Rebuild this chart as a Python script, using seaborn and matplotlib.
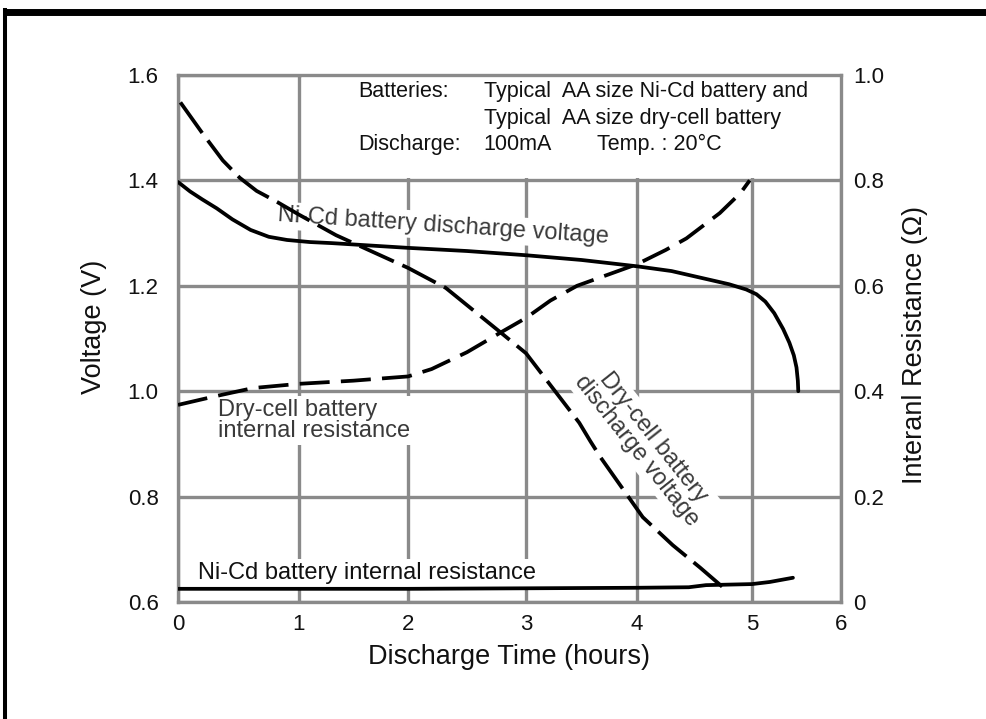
import numpy as np
import matplotlib
matplotlib.use("Agg")
import matplotlib.pyplot as plt
from matplotlib.lines import Line2D
from matplotlib.patches import Rectangle
import seaborn as sns

# ---- data -------------------------------------------------------------
# Ni-Cd battery discharge voltage (V) vs time (h)
nicd_v_t = [0.0, 0.05, 0.1, 0.2, 0.32, 0.45, 0.6, 0.75, 0.9, 1.1, 1.3, 2.0,
            2.5, 3.0, 3.5, 4.0, 4.3, 4.6, 4.8, 4.95, 5.05, 5.15, 5.25, 5.35,
            5.42, 5.47, 5.5, 5.515, 5.52]
nicd_v = [1.397, 1.388, 1.379, 1.364, 1.347, 1.326, 1.306, 1.293, 1.287,
          1.283, 1.281, 1.272, 1.266, 1.258, 1.249, 1.237, 1.228, 1.213,
          1.203, 1.193, 1.184, 1.17, 1.148, 1.118, 1.092, 1.068, 1.045,
          1.02, 1.0]

# Dry-cell battery discharge voltage (V)
dry_v_t = [0.02, 0.2, 0.37, 0.51, 0.65, 0.82, 1.0, 1.34, 2.0, 2.32, 2.76,
           3.0, 3.48, 3.58, 3.67, 4.05, 4.31, 4.55, 4.8]
dry_v = [1.548, 1.49, 1.438, 1.405, 1.38, 1.359, 1.335, 1.296, 1.234, 1.196,
         1.116, 1.072, 0.94, 0.905, 0.875, 0.761, 0.708, 0.665, 0.618]

# Ni-Cd battery internal resistance (ohm)
nicd_r_t = [0.0, 1.0, 2.0, 3.0, 4.0, 4.45, 4.6, 5.0, 5.2, 5.46]
nicd_r = [0.025, 0.025, 0.025, 0.026, 0.027, 0.028, 0.032, 0.034, 0.038, 0.046]

# Dry-cell battery internal resistance (ohm)
dry_r_t = [0.0, 0.3, 0.62, 1.0, 1.5, 1.81, 2.0, 2.2, 2.5, 2.79, 3.0, 3.22,
           3.46, 3.75, 4.0, 4.25, 4.43, 4.72, 4.9, 4.98]
dry_r = [0.374, 0.39, 0.406, 0.414, 0.42, 0.425, 0.428, 0.442, 0.474, 0.512,
         0.539, 0.572, 0.600, 0.622, 0.641, 0.668, 0.69, 0.738, 0.776, 0.80]

x_ticks = [0, 1, 2, 3, 4, 5, 6]
v_ticks = [0.6, 0.8, 1.0, 1.2, 1.4, 1.6]
r_ticks = [0.0, 0.2, 0.4, 0.6, 0.8, 1.0]
r_tick_labels = ["0", "0.2", "0.4", "0.6", "0.8", "1.0"]

# ---- style ------------------------------------------------------------
sns.set_theme(style="white")
plt.rcParams["font.family"] = ["Liberation Sans", "DejaVu Sans"]

GRID = "#8a8a8a"
INK = "#111111"
LABEL = "#3a3a3a"

fig = plt.figure(figsize=(9.87, 7.19), dpi=100)
fig.patch.set_facecolor("white")
ax = fig.add_axes([178 / 987, 1 - 602 / 719, 663 / 987, 527 / 719])

# hand-drawn grid spacing of the hour axis
hour_pos = [0, 121, 230, 348, 459, 574, 663]
ax.set_xscale("function",
              functions=(lambda h: np.interp(h, x_ticks, hour_pos),
                         lambda p: np.interp(p, hour_pos, x_ticks)))
ax.set_xlim(0, 6)
ax.set_ylim(0.6, 1.6)
ax.set_xticks(x_ticks)
ax.set_xticklabels([str(t) for t in x_ticks])
ax.set_yticks(v_ticks)
ax.set_yticklabels([f"{t:.1f}" for t in v_ticks])
ax.set_axisbelow(True)
ax.grid(True, color=GRID, lw=2.4)
for s in ax.spines.values():
    s.set_color(GRID)
    s.set_linewidth(2.4)
ax.tick_params(axis="both", length=0, labelsize=16, colors=INK)
ax.tick_params(axis="y", pad=14)
ax.tick_params(axis="x", pad=9)

ax2 = ax.twinx()
ax2.set_ylim(0, 1.0)
ax2.set_yticks(r_ticks)
ax2.set_yticklabels(r_tick_labels)
ax2.tick_params(axis="y", length=0, labelsize=16, colors=INK, pad=9)
ax2.grid(False)
for s in ax2.spines.values():
    s.set_visible(False)

# blank panel holding the test conditions
ax.add_patch(Rectangle((1.03, 1.404), 4.97, 0.196, facecolor="white",
                       edgecolor="none", zorder=1))

# ---- curves -------------------------------------------------------------
sns.lineplot(x=nicd_v_t, y=nicd_v, ax=ax, color="black", lw=2.7,
             sort=False, zorder=3)
sns.lineplot(x=dry_v_t, y=dry_v, ax=ax, color="black", lw=2.7,
             linestyle=(0, (10, 2.5)), sort=False, zorder=3)
sns.lineplot(x=nicd_r_t, y=nicd_r, ax=ax2, color="black", lw=2.7,
             sort=False, zorder=3)
sns.lineplot(x=dry_r_t, y=dry_r, ax=ax2, color="black", lw=2.7,
             linestyle=(0, (8, 3)), sort=False, zorder=3)

# ---- labels -------------------------------------------------------------
ax.set_xlabel("Discharge Time (hours)", fontsize=19.5, color=INK)
ax.xaxis.label.set_va("center")
ax.xaxis.set_label_coords(0.5, -0.104)
ax.set_ylabel("Voltage (V)", fontsize=19.5, color=INK)
ax.yaxis.label.set_va("center")
ax.yaxis.set_label_coords(-0.127, 0.522)
ax2.set_ylabel("Interanl Resistance (\u03a9)", fontsize=19.5, color=INK)
ax2.yaxis.label.set_va("center")
ax2.yaxis.set_label_coords(1.112, 0.488)

note_kw = dict(fontsize=15.5, color=INK, va="center", ha="left", zorder=2)
ax.text(1.54, 1.568, "Batteries:", **note_kw)
ax.text(2.64, 1.568, "Typical  AA size Ni-Cd battery and", **note_kw)
ax.text(2.64, 1.517, "Typical  AA size dry-cell battery", **note_kw)
ax.text(1.54, 1.469, "Discharge:", **note_kw)
ax.text(2.64, 1.469, "100mA", **note_kw)
ax.text(3.64, 1.469, "Temp. : 20\u00b0C", **note_kw)

box = dict(facecolor="white", edgecolor="none", pad=2)
ax.text(0.826, 1.334, "Ni-Cd battery discharge voltage", fontsize=17,
        color=LABEL, ha="left", va="center", rotation=-3.8,
        rotation_mode="anchor", bbox=box, zorder=2)
ax.text(0.33, 0.945, "Dry-cell battery\ninternal resistance", fontsize=17,
        color=LABEL, ha="left", va="center", linespacing=0.95,
        bbox=box, zorder=2)
ax.text(4.07, 0.9, "Dry-cell battery\ndischarge voltage", fontsize=17,
        color=LABEL, ha="center", va="center", rotation=-51.5,
        rotation_mode="anchor", multialignment="center", linespacing=0.95,
        bbox=box, zorder=2)
ax.text(0.165, 0.655, "Ni-Cd battery internal resistance", fontsize=17,
        color=INK, ha="left", va="center", bbox=box, zorder=2)

# outer frame edges
fig.add_artist(Line2D([3 / 987, 1], [1 - 11.5 / 719] * 2, color="black",
                      lw=5.0, solid_capstyle="butt"))
fig.add_artist(Line2D([5 / 987] * 2, [0, 1 - 8 / 719], color="black",
                      lw=2.9, solid_capstyle="butt"))

fig.savefig("out.png", dpi=100, facecolor="white")
